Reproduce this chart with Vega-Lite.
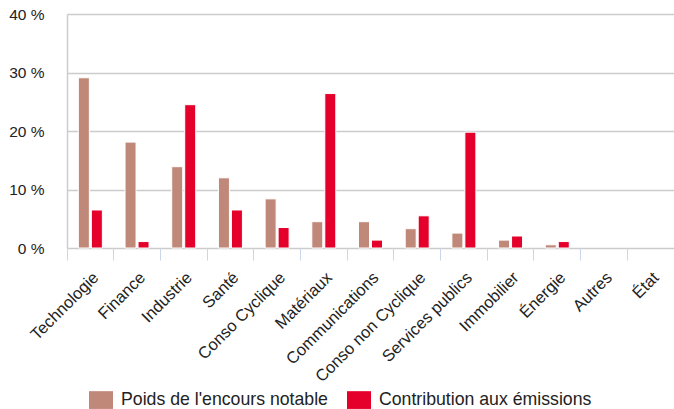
{
  "$schema": "https://vega.github.io/schema/vega-lite/v6.json",
  "width": 607,
  "height": 234,
  "autosize": {"type": "none"},
  "padding": {"left": 67, "top": 14, "right": 0, "bottom": 161},
  "background": "white",
  "config": {
    "view": {"stroke": null},
    "font": "Liberation Sans"
  },
  "data": {
    "values": [
      {"cat": "Technologie", "serie": "Poids de l'encours notable", "value": 29.1},
      {"cat": "Technologie", "serie": "Contribution aux émissions", "value": 6.5},
      {"cat": "Finance", "serie": "Poids de l'encours notable", "value": 18.1},
      {"cat": "Finance", "serie": "Contribution aux émissions", "value": 1.1},
      {"cat": "Industrie", "serie": "Poids de l'encours notable", "value": 13.9},
      {"cat": "Industrie", "serie": "Contribution aux émissions", "value": 24.5},
      {"cat": "Santé", "serie": "Poids de l'encours notable", "value": 12.0},
      {"cat": "Santé", "serie": "Contribution aux émissions", "value": 6.5},
      {"cat": "Conso Cyclique", "serie": "Poids de l'encours notable", "value": 8.4},
      {"cat": "Conso Cyclique", "serie": "Contribution aux émissions", "value": 3.5},
      {"cat": "Matériaux", "serie": "Poids de l'encours notable", "value": 4.5},
      {"cat": "Matériaux", "serie": "Contribution aux émissions", "value": 26.4},
      {"cat": "Communications", "serie": "Poids de l'encours notable", "value": 4.5},
      {"cat": "Communications", "serie": "Contribution aux émissions", "value": 1.35},
      {"cat": "Conso non Cyclique", "serie": "Poids de l'encours notable", "value": 3.3},
      {"cat": "Conso non Cyclique", "serie": "Contribution aux émissions", "value": 5.5},
      {"cat": "Services publics", "serie": "Poids de l'encours notable", "value": 2.55},
      {"cat": "Services publics", "serie": "Contribution aux émissions", "value": 19.8},
      {"cat": "Immobilier", "serie": "Poids de l'encours notable", "value": 1.35},
      {"cat": "Immobilier", "serie": "Contribution aux émissions", "value": 2.05},
      {"cat": "Énergie", "serie": "Poids de l'encours notable", "value": 0.55},
      {"cat": "Énergie", "serie": "Contribution aux émissions", "value": 1.1},
      {"cat": "Autres", "serie": "Poids de l'encours notable", "value": 0},
      {"cat": "Autres", "serie": "Contribution aux émissions", "value": 0},
      {"cat": "État", "serie": "Poids de l'encours notable", "value": 0},
      {"cat": "État", "serie": "Contribution aux émissions", "value": 0}
    ]
  },
  "mark": {"type": "bar", "stroke": "white"},
  "encoding": {
    "x": {
      "field": "cat",
      "type": "nominal",
      "sort": null,
      "scale": {"paddingInner": 0, "paddingOuter": 0},
      "axis": {
        "title": null,
        "labelAngle": -45,
        "labelFontSize": 16.5,
        "labelColor": "#222",
        "labelPadding": 9,
        "labelDx": -3,
        "bandPosition": 0,
        "ticks": true,
        "tickSize": 12,
        "tickColor": "#ccd6eb",
        "tickWidth": 1,
        "domain": false,
        "grid": false
      }
    },
    "xOffset": {
      "field": "serie",
      "type": "nominal",
      "sort": ["Poids de l'encours notable", "Contribution aux émissions"],
      "scale": {"paddingInner": 0.154, "paddingOuter": 0.873}
    },
    "y": {
      "field": "value",
      "type": "quantitative",
      "scale": {"domain": [0, 40]},
      "axis": {
        "title": null,
        "values": [0, 10, 20, 30, 40],
        "labelExpr": "datum.value + ' %'",
        "labelFontSize": 15.5,
        "labelColor": "#222",
        "labelPadding": 23,
        "ticks": false,
        "domain": true,
        "domainColor": "#cccccc",
        "domainWidth": 1.5,
        "grid": true,
        "gridColor": "#cccccc",
        "gridWidth": 1.5
      }
    },
    "strokeWidth": {
      "condition": {"test": "datum.value == 0", "value": 0},
      "value": 1
    },
    "color": {
      "field": "serie",
      "type": "nominal",
      "sort": ["Poids de l'encours notable", "Contribution aux émissions"],
      "scale": {
        "domain": ["Poids de l'encours notable", "Contribution aux émissions"],
        "range": ["#c08878", "#e4002b"]
      },
      "legend": {
        "title": null,
        "orient": "none",
        "direction": "horizontal",
        "legendX": 22,
        "legendY": 374,
        "padding": 0,
        "symbolType": "M-1,-0.74L1,-0.74L1,0.74L-1,0.74Z",
        "symbolSize": 576,
        "symbolStrokeWidth": 0,
        "labelFontSize": 17.7,
        "labelLimit": 400,
        "labelColor": "#222",
        "labelOffset": 8,
        "columnPadding": 19
      }
    }
  }
}
